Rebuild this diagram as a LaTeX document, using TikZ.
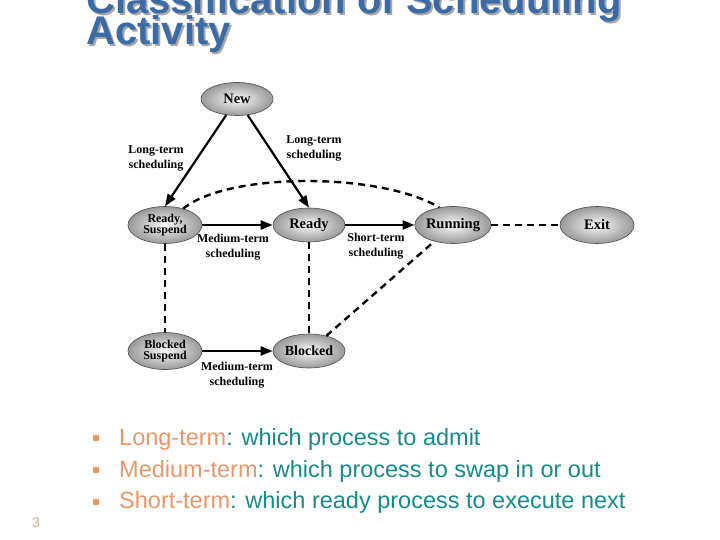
\documentclass[tikz,border=0pt]{standalone}
\usepackage{fontspec}
\setmainfont{Liberation Serif}
\newfontfamily\arialf{Liberation Sans}
\usetikzlibrary{shapes.geometric,arrows.meta}
\definecolor{titleblue}{HTML}{3A6BA5}
\definecolor{orng}{HTML}{E8976A}
\definecolor{teal2}{HTML}{16898A}
\definecolor{pgnum}{HTML}{D9A880}
\tikzset{
  state/.style={ellipse, draw=black!70, line width=0.6pt, inner sep=0pt,
    inner color=white!95!gray, outer color=black!40,
    font=\fontsize{14.5}{15}\selectfont\bfseries, align=center},
  wide/.style={minimum width=74pt, minimum height=37pt},
  narrow/.style={minimum width=72pt, minimum height=34pt},
  small/.style={font=\fontsize{12}{12.5}\selectfont\bfseries},
  lbl/.style={font=\fontsize{12}{15}\selectfont\bfseries, align=center, inner sep=0pt},
  solidarr/.style={line width=2.2pt, -{Triangle[length=12pt,width=9pt]}},
  dsh/.style={line width=2.4pt, dash pattern=on 7pt off 5pt},
  bulletsq/.style={fill=orng, minimum size=5.5pt, inner sep=0pt},
  btext/.style={anchor=base west, inner sep=0pt, font=\arialf\fontsize{23.5}{26}\selectfont, text=teal2},
  ttl/.style={anchor=base west, inner sep=0pt, font=\arialf\fontsize{40}{40}\selectfont\bfseries}
}
\begin{document}
\begin{tikzpicture}[x=1pt,y=-1pt]
\useasboundingbox (0,0) rectangle (720,540);
\clip (0,0) rectangle (720,540);
% title with shadow
\node[ttl, text=black!35] (t1s) at (88,16) {Classification of Scheduling};
\node[ttl, text=black!35] (t2s) at (88,47) {Activity};
\node[ttl, text=titleblue] (t1) at (86,14) {Classification of Scheduling};
\node[ttl, text=titleblue] (t2) at (86,45) {Activity};
% states
\node[state, narrow, minimum height=33pt] (New) at (237,99) {New};
\node[state, wide, small] (RS) at (165,225) {Ready,\\[-2pt]Suspend};
\node[state, narrow] (Ready) at (309,225) {Ready};
\node[state, wide] (Running) at (453,225) {Running};
\node[state, wide] (Exit) at (597,225) {Exit};
\node[state, wide, small] (BS) at (165,351) {Blocked\\[-2pt]Suspend};
\node[state, narrow, font=\fontsize{14}{15}\selectfont\bfseries] (Blocked) at (309,351) {Blocked};
% dashed connectors
\draw[dsh] (RS) -- (BS);
\draw[dsh] (Ready) -- (Blocked);
\draw[dsh] (Running) -- (Exit);
\draw[dsh] (Blocked) -- (Running);
\draw[dsh] (RS.42) .. controls (228,172) and (380,172) .. (Running.128);
% solid arrows
\draw[solidarr] (New) -- (RS.north);
\draw[solidarr] (New) -- (Ready.north);
\draw[solidarr] (RS) -- (Ready);
\draw[solidarr] (Ready) -- (Running);
\draw[solidarr] (BS) -- (Blocked);
% labels
\node[lbl] (l1) at (156,158) {Long-term\\scheduling};
\node[lbl] (l2) at (314,148) {Long-term\\scheduling};
\node[lbl] (l3) at (233,247) {Medium-term\\scheduling};
\node[lbl] (l4) at (376,246) {Short-term\\scheduling};
\node[lbl] (l5) at (237,375) {Medium-term\\scheduling};
% bullets
\node[bulletsq] (b1) at (96,438) {};
\node[bulletsq] (b2) at (96,470) {};
\node[bulletsq] (b3) at (96,502) {};
\node[btext] (x1) at (119,445) {\textcolor{orng}{Long-term}: which process to admit};
\node[btext] (x2) at (119,477) {\textcolor{orng}{Medium-term}: which process to swap in or out};
\node[btext] (x3) at (119,508) {\textcolor{orng}{Short-term}: which ready process to execute next};
\node[anchor=base west, inner sep=0pt, text=pgnum, font=\arialf\fontsize{14}{14}\selectfont] (pg) at (32,527) {3};
\end{tikzpicture}
\end{document}
